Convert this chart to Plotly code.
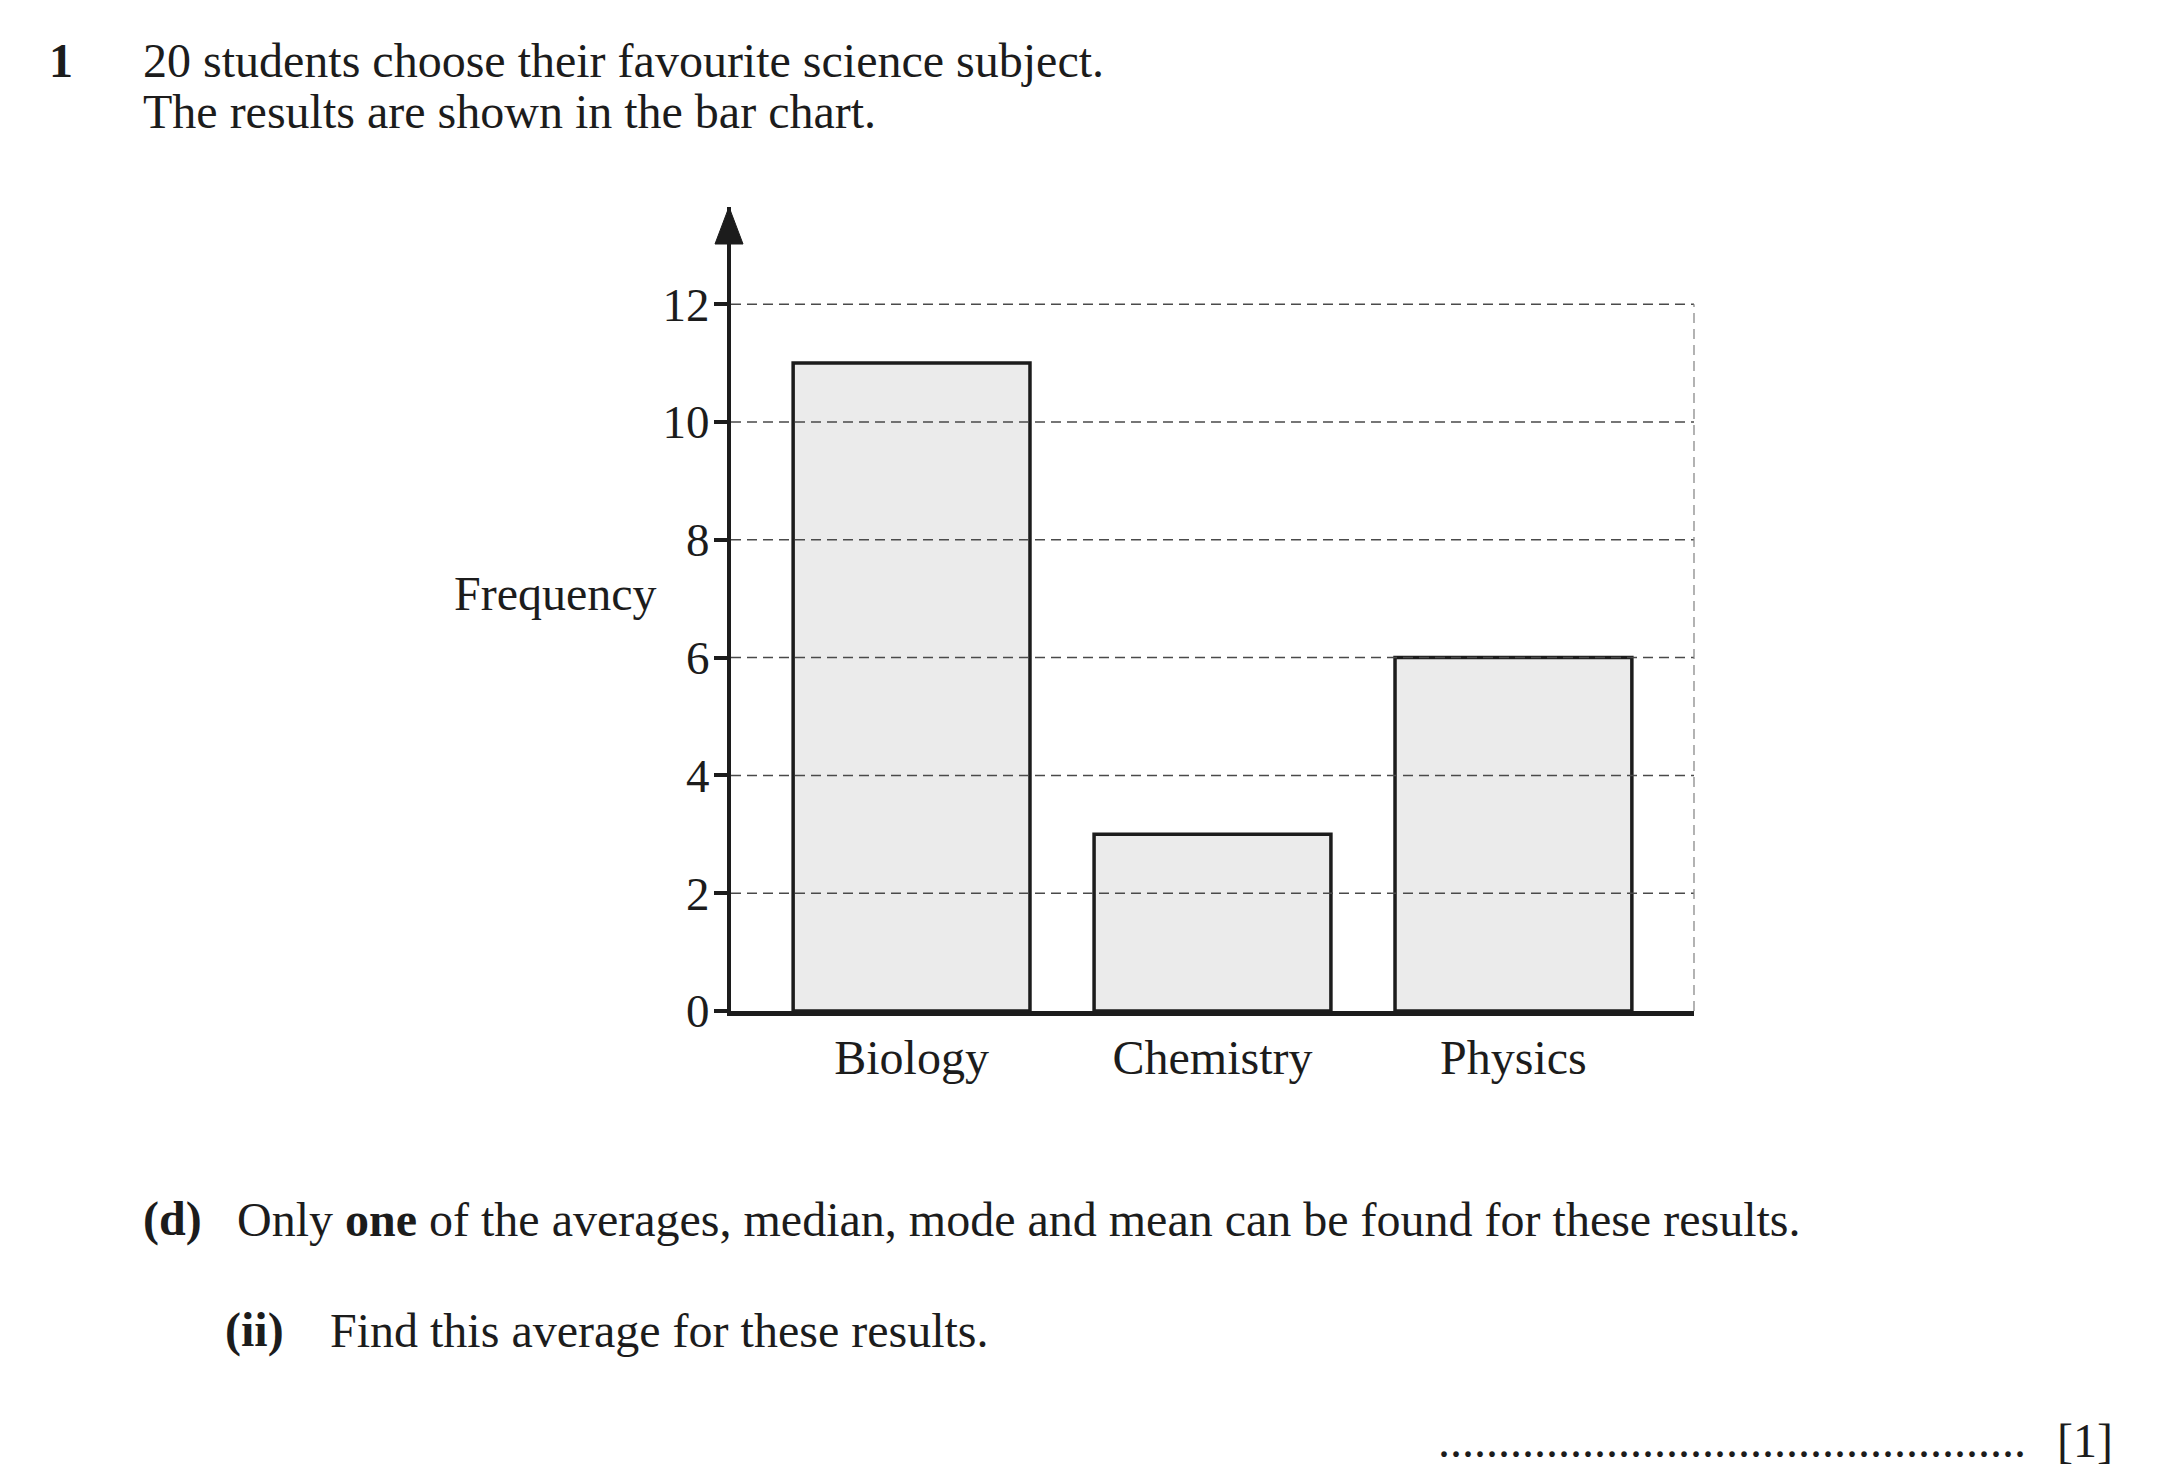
import plotly.graph_objects as go

# dados do grafico
subjects = ['Biology', 'Chemistry', 'Physics']
frequency = [11, 3, 6]
y_ticks = [0, 2, 4, 6, 8, 10, 12]

W, H = 2167, 1484
serif = 'Liberation Serif'
ink = '#1c1c1c'


def px(x):
    return x / W


def py(y):
    return 1 - y / H


fig = go.Figure()

fig.add_trace(go.Bar(
    x=subjects,
    y=frequency,
    width=0.787,
    marker=dict(color='#ebebeb', line=dict(color=ink, width=3.5)),
    hoverinfo='x+y',
))

# linhas tracejadas por cima das barras
for t in y_ticks[1:]:
    fig.add_shape(type='line', xref='x domain', yref='y', x0=0, x1=1, y0=t, y1=t,
                  line=dict(color='#4a4a4a', width=1.5, dash='10px,6px'), layer='above')
fig.add_shape(type='line', xref='x domain', yref='y', x0=1, x1=1, y0=0, y1=max(y_ticks),
              line=dict(color='#8a8a8a', width=1.3, dash='10px,6px'), layer='above')

# seta do eixo y (em papel, para nao ser cortada)
fig.add_shape(type='path', xref='paper', yref='paper', xsizemode='pixel', ysizemode='pixel',
              xanchor=px(729), yanchor=py(207),
              path='M -14 -37 L 0 0 L 14 -37 Z',
              fillcolor=ink, line=dict(color=ink, width=1), layer='above')

fig.update_xaxes(
    domain=[px(731), px(1694)],
    range=[-0.6, 2.6],
    showline=True, linecolor=ink, linewidth=4.5,
    showgrid=False, ticks='', ticklabelstandoff=1,
    tickfont=dict(family=serif, size=48, color=ink),
    layer='above traces', automargin=False,
)
fig.update_yaxes(
    domain=[py(1011), py(207)],
    range=[0, 13.65],
    showline=True, linecolor=ink, linewidth=4,
    showgrid=False, zeroline=False,
    tickvals=y_ticks, ticks='outside', ticklen=13, tickwidth=4, tickcolor=ink,
    ticklabelstandoff=-5,
    tickfont=dict(family=serif, size=47, color=ink),
    layer='above traces', automargin=False,
)

def texto(x, y, s, anchor='left', size=48):
    fig.add_annotation(xref='paper', yref='paper', x=px(x), y=py(y), text=s,
                       showarrow=False, xanchor=anchor, yanchor='middle',
                       borderpad=0,
                       font=dict(family=serif, size=size, color=ink))

texto(48, 61, '<b>1</b>')
texto(142, 61, '20 students choose their favourite science subject.')
texto(142, 112, 'The results are shown in the bar chart.')
texto(658, 594, 'Frequency', anchor='right')
texto(142, 1219, '<b>(d)</b>')
texto(236, 1219, 'Only <b>one</b> of the averages, median, mode and mean can be found for these results.')
texto(224, 1330, '<b>(ii)</b>')
texto(329, 1330, 'Find this average for these results.')
texto(1437, 1440, '.' * 49)
texto(2056, 1440, '[1]')

fig.update_layout(
    width=W, height=H,
    margin=dict(l=0, r=0, t=0, b=0, autoexpand=False),
    plot_bgcolor='white', paper_bgcolor='white',
    showlegend=False,
)

fig.write_html('out.html', config={'displayModeBar': False},
               post_script="document.body.style.margin='0';")
